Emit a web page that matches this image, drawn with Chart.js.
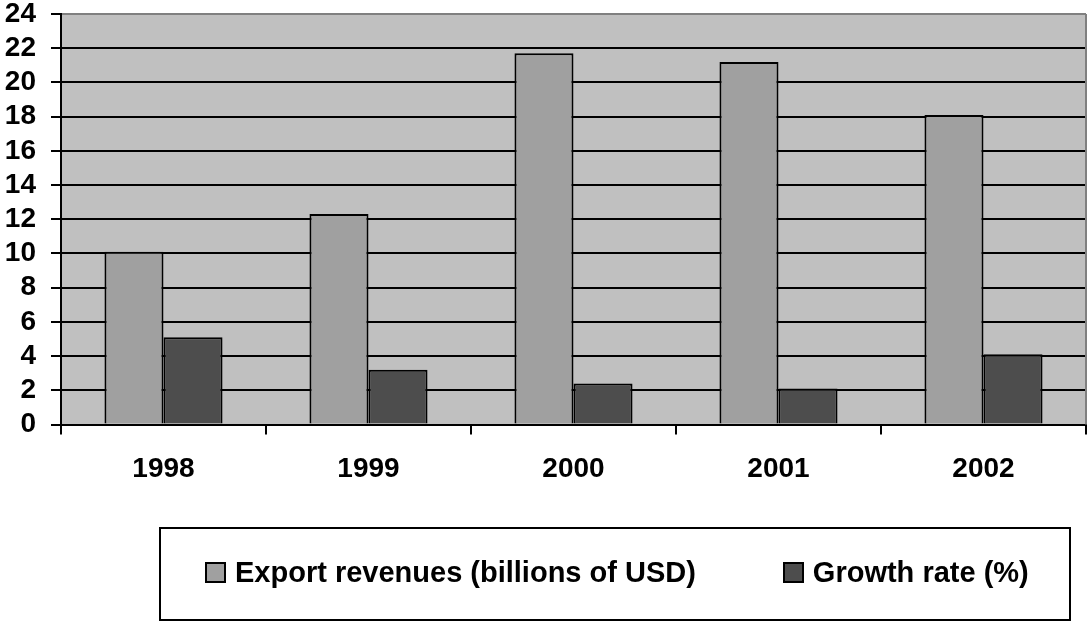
<!DOCTYPE html>
<html>
<head>
<meta charset="utf-8">
<title>Export revenues and growth rate</title>
<script src="https://cdn.jsdelivr.net/npm/chart.js@4.4.1/dist/chart.umd.min.js"></script>
<style>
    html, body { margin: 0; padding: 0; background: #fff; }
    #wrap { position: relative; width: 1088px; height: 622px; }
    #legend {
        position: absolute; left: 159px; top: 527px; width: 912px; height: 94px;
        box-sizing: border-box; border: 2px solid #000;
        display: flex; align-items: center; padding-left: 44px; padding-bottom: 3px;
        font: bold 29px "Liberation Sans", Arial, sans-serif; color: #000;
    }
    .item { display: flex; align-items: center; white-space: nowrap; }
    .item + .item { margin-left: 87px; }
    .swatch { width: 17px; height: 17px; border: 2px solid #000; margin-right: 9px; }
</style>
</head>
<body>
<div id="wrap">
    <canvas id="exportChart" width="1088" height="622"></canvas>
    <div id="legend"></div>
</div>
<script>
const years = ['1998', '1999', '2000', '2001', '2002'];
const exportRevenues = [10.1, 12.3, 21.7, 21.2, 18.1]; // billions of USD
const growthRate = [5.1, 3.2, 2.4, 2.1, 4.1]; // %
const yTicks = { min: 0, max: 24, step: 2 };

const axisFont = { family: '"Liberation Sans", Arial, sans-serif', size: 28, weight: 'bold' };

// grey plot background and grey right edge, like the old spreadsheet chart
const plotFrame = {
    id: 'plotFrame',
    beforeDraw(chart) {
        const { ctx, chartArea: a } = chart;
        ctx.save();
        ctx.fillStyle = '#c0c0c0';
        ctx.fillRect(a.left, a.top, a.right - a.left, a.bottom - a.top);
        ctx.restore();
    },
    afterDraw(chart) {
        const { ctx, chartArea: a } = chart;
        ctx.save();
        ctx.strokeStyle = '#808080';
        ctx.lineWidth = 2;
        ctx.beginPath();
        ctx.moveTo(a.right, a.top);
        ctx.lineTo(a.right, a.bottom);
        ctx.stroke();
        ctx.restore();
    }
};

const ctx = document.getElementById('exportChart').getContext('2d');
const chart = new Chart(ctx, {
    type: 'bar',
    data: {
        labels: years,
        datasets: [{
            label: 'Export revenues (billions of USD)',
            data: exportRevenues,
            backgroundColor: '#a0a0a0',
            borderColor: '#000',
            borderWidth: 2,
            categoryPercentage: 0.576,
            barPercentage: 1.0
        }, {
            label: 'Growth rate (%)',
            data: growthRate,
            backgroundColor: '#4d4d4d',
            borderColor: '#000',
            borderWidth: 2,
            categoryPercentage: 0.576,
            barPercentage: 1.0
        }]
    },
    options: {
        responsive: false,
        animation: false,
        devicePixelRatio: 1,
        layout: {
            padding: { left: 0, right: 2, top: 0, bottom: 136 }
        },
        plugins: {
            legend: { display: false },
            tooltip: { enabled: false }
        },
        scales: {
            x: {
                offset: true,
                grid: {
                    offset: true,
                    drawOnChartArea: false,
                    color: '#000',
                    lineWidth: 2,
                    tickLength: 10
                },
                border: { color: '#000', width: 2 },
                ticks: { color: '#000', font: axisFont, padding: 18 },
                afterFit: s => {
                    s.height = 61.5;
                    s.paddingLeft = 0;
                    s.paddingRight = 0;
                }
            },
            y: {
                min: yTicks.min,
                max: yTicks.max,
                grid: {
                    color: c => (c.tick && c.tick.value === yTicks.max) ? '#808080' : '#000',
                    tickColor: '#000',
                    lineWidth: 2,
                    tickLength: 10
                },
                border: { color: '#000', width: 2 },
                ticks: {
                    stepSize: yTicks.step,
                    color: '#000',
                    font: Object.assign({ lineHeight: 1 }, axisFont),
                    padding: 15
                },
                afterFit: s => {
                    s.width = 61;
                    s.paddingTop = 14;
                    s.paddingBottom = 0;
                }
            }
        }
    },
    plugins: [plotFrame]
});

// legend box drawn as html, built from the chart's datasets
const legend = document.getElementById('legend');
chart.data.datasets.forEach(ds => {
    const item = document.createElement('div');
    item.className = 'item';
    const sw = document.createElement('span');
    sw.className = 'swatch';
    sw.style.background = ds.backgroundColor;
    const txt = document.createElement('span');
    txt.textContent = ds.label;
    item.appendChild(sw);
    item.appendChild(txt);
    legend.appendChild(item);
});
</script>
</body>
</html>
